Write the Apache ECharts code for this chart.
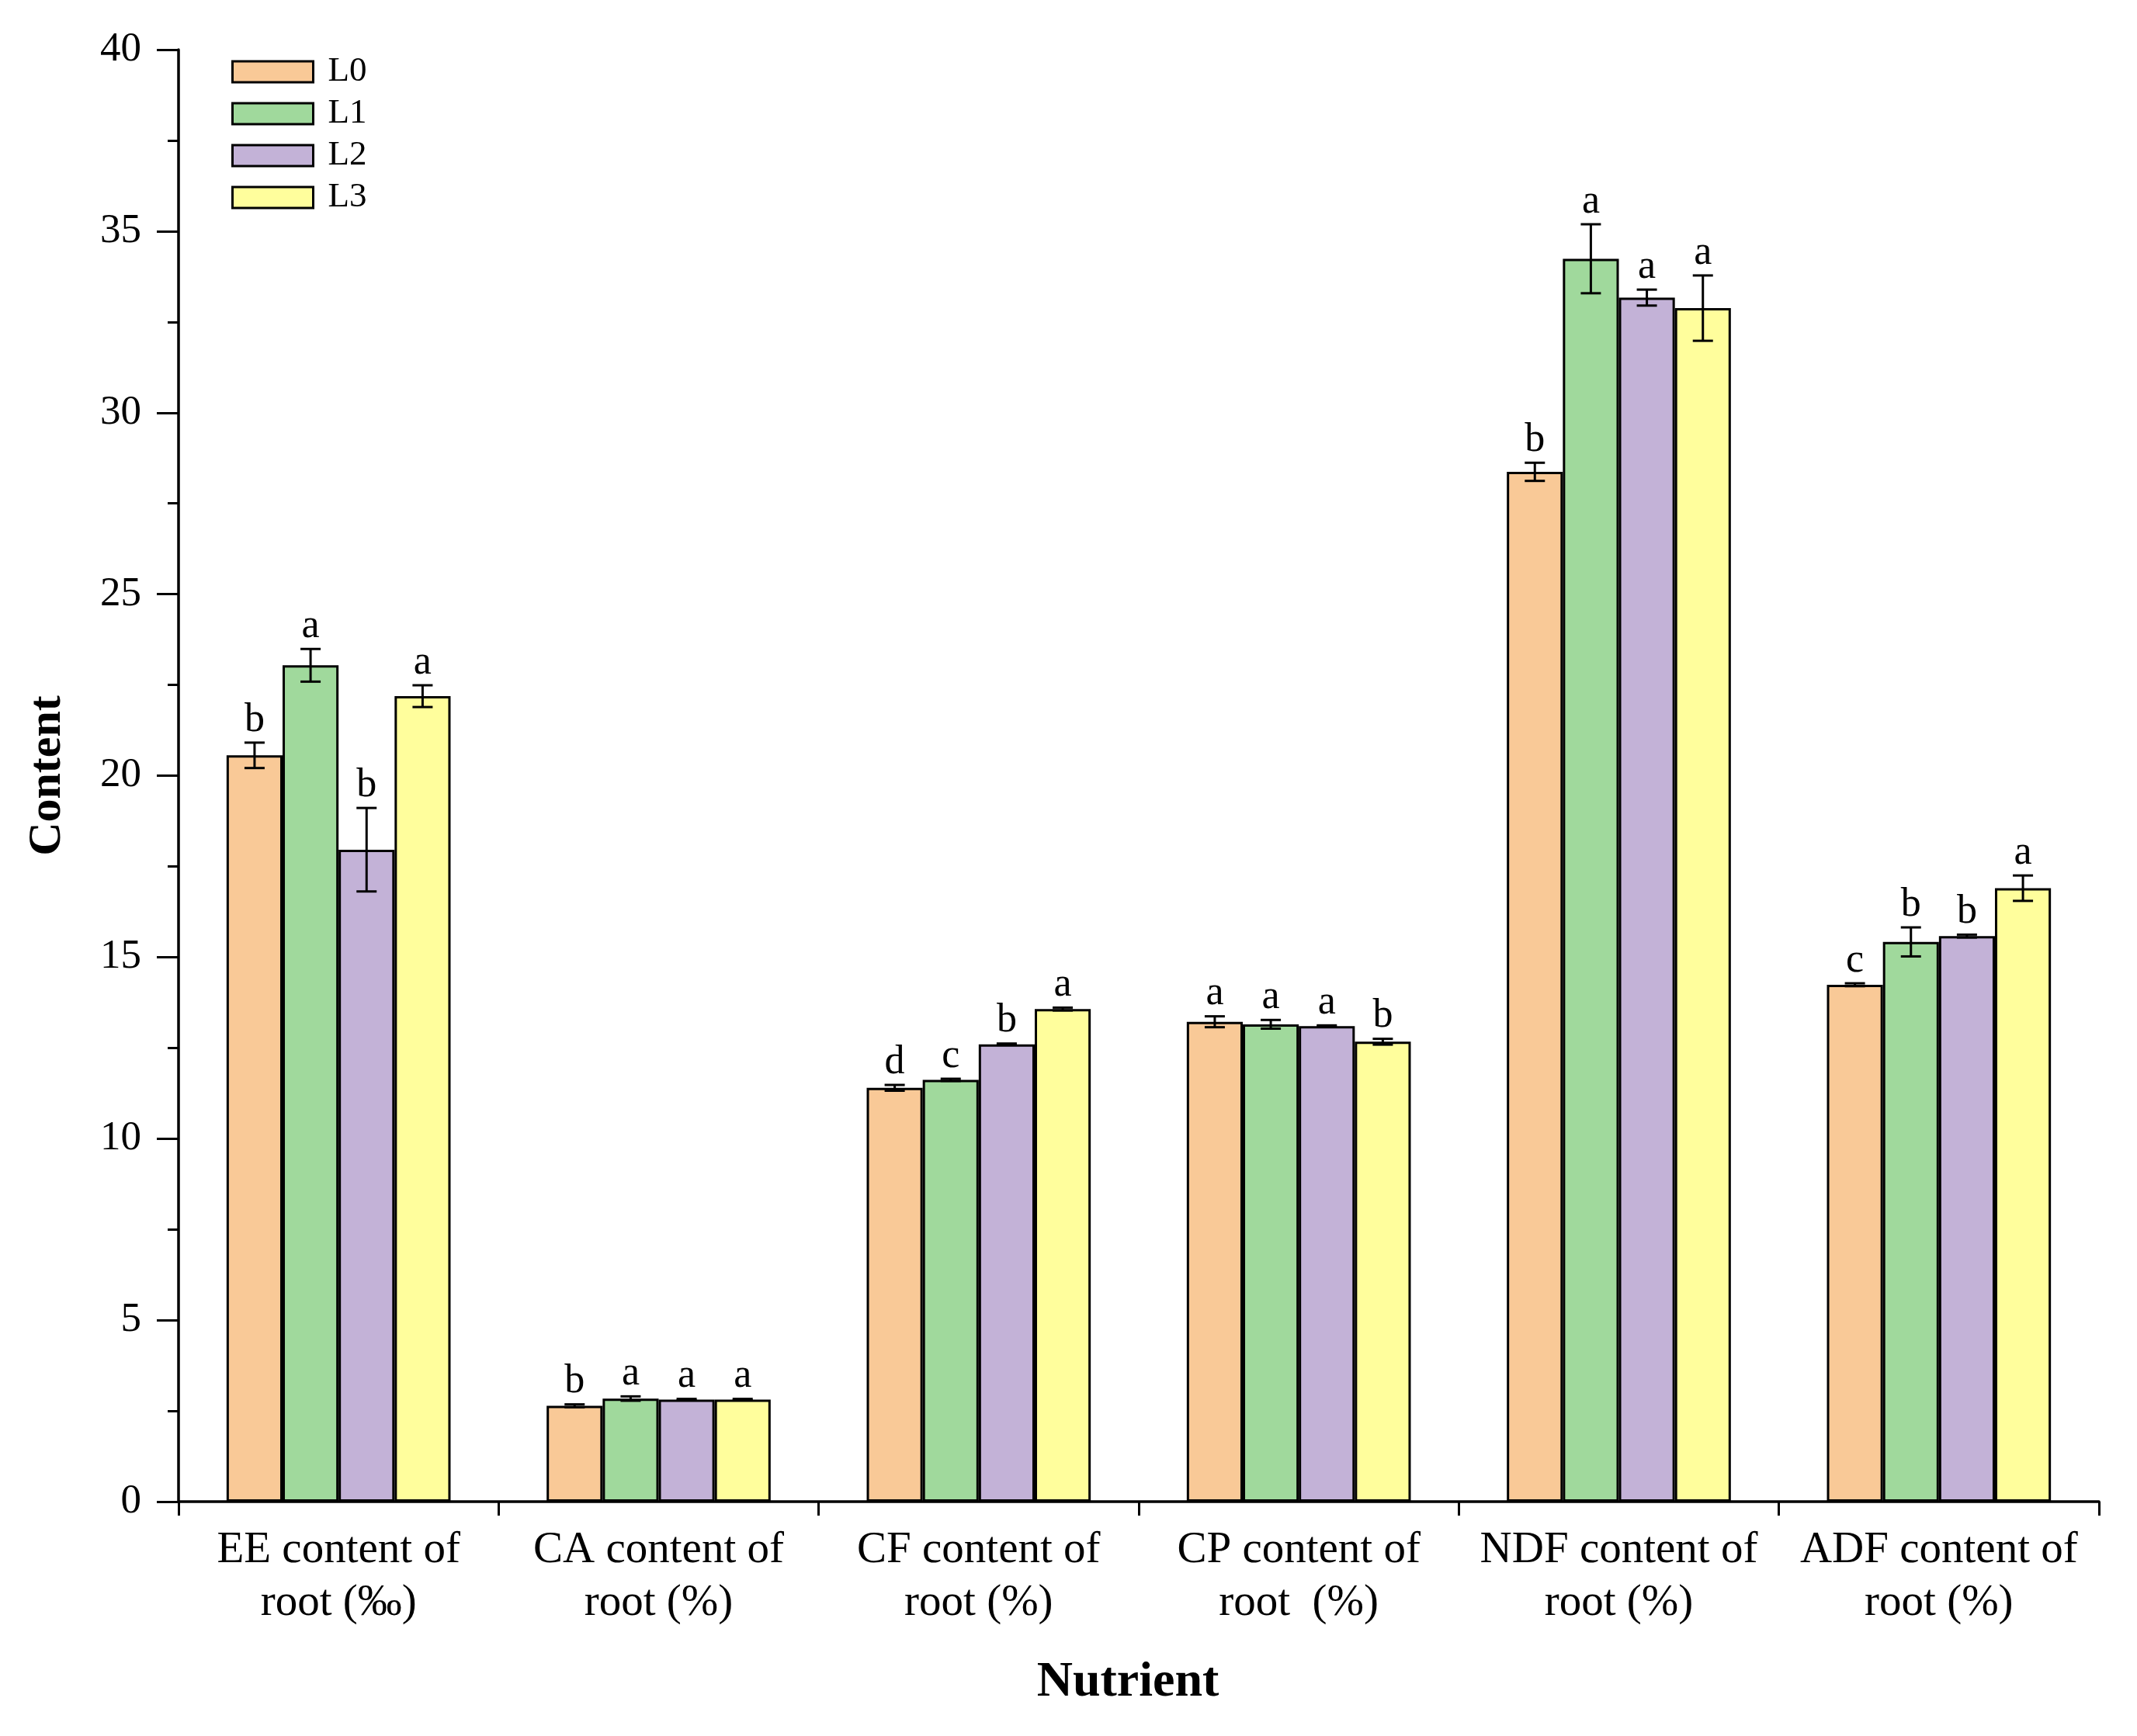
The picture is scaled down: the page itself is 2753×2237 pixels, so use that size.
<!DOCTYPE html>
<html><head><meta charset="utf-8">
<script src="https://cdn.jsdelivr.net/npm/echarts@6/dist/echarts.min.js"></script>
<style>html,body{margin:0;padding:0;background:#fff}#c{width:2753px;height:2237px}</style>
</head><body><div id="c"></div>
<script>
const categories = ['EE content of\nroot (‰)','CA content of\nroot (%)','CF content of\nroot (%)','CP content of\nroot  (%)','NDF content of\nroot (%)','ADF content of\nroot (%)'];
const levels = ['L0','L1','L2','L3'];
const colors = ['#F9C997','#A0D99C','#C3B2D7','#FFFE9C'];
const L0 = [20.56, 2.64, 11.40, 13.22, 28.37, 14.24];
const L1 = [23.04, 2.84, 11.62, 13.15, 34.24, 15.42];
const L2 = [17.96, 2.81, 12.60, 13.10, 33.17, 15.58];
const L3 = [22.19, 2.81, 13.57, 12.67, 32.88, 16.90];
const E0 = [0.35, 0.04, 0.08, 0.15, 0.25, 0.04];
const E1 = [0.45, 0.06, 0.03, 0.12, 0.95, 0.40];
const E2 = [1.15, 0.02, 0.02, 0.02, 0.22, 0.04];
const E3 = [0.30, 0.02, 0.04, 0.08, 0.90, 0.35];
const S0 = ['b','b','d','a','b','c'];
const S1 = ['a','a','c','a','a','b'];
const S2 = ['b','a','b','a','a','b'];
const S3 = ['a','a','a','b','a','a'];
const yTicks = {min:0, max:40, interval:5};

const vals = [L0,L1,L2,L3], errs = [E0,E1,E2,E3], sigs = [S0,S1,S2,S3];
const FONT = '"Liberation Serif", "Times New Roman", serif';

const series = [];
levels.forEach((lv,i)=>{
  series.push({
    type:'bar', name: lv, data: vals[i],
    barGap:'0%', barCategoryGap:'30%',
    itemStyle:{color:colors[i], borderColor:'#000', borderWidth:3},
    emphasis:{disabled:true}
  });
});
levels.forEach((lv,i)=>{
  series.push({
    type:'custom', name:'err'+lv, z:10,
    data: vals[i].map((v,k)=>[k, v, errs[i][k]]),
    encode:{x:0,y:1},
    renderItem:(params, api)=>{
      const k = api.value(0), v = api.value(1), e = api.value(2);
      const band = api.size([1,0])[0];
      const bw = band*0.7/4;
      const cx = api.coord([k, v])[0] + (i-1.5)*bw;
      const yT = api.coord([k, v+e])[1], yB = api.coord([k, v-e])[1];
      const cap = 13;
      const st = {stroke:'#000', lineWidth:3};
      return {type:'group', children:[
        {type:'line', shape:{x1:cx,y1:yT,x2:cx,y2:yB}, style:st},
        {type:'line', shape:{x1:cx-cap,y1:yT,x2:cx+cap,y2:yT}, style:st},
        {type:'line', shape:{x1:cx-cap,y1:yB,x2:cx+cap,y2:yB}, style:st},
        {type:'text', x:cx, y:yT-3, style:{text:sigs[i][params.dataIndex], fill:'#000', font:'52px '+FONT, align:'center', verticalAlign:'bottom'}}
      ]};
    }
  });
});

const chart = echarts.init(document.getElementById('c'));
chart.setOption({
  animation:false,
  backgroundColor:'#fff',
  grid:{left:230, right:49, top:64, bottom:302, containLabel:false},
  legend:{
    data:levels, orient:'vertical', left:293, top:65,
    icon:'rect', itemWidth:104, itemHeight:27, itemGap:9,
    itemStyle:{borderColor:'#000', borderWidth:3},
    textStyle:{fontFamily:FONT, fontSize:45, color:'#000', padding:[0,0,0,14]}
  },
  xAxis:{
    type:'category', data:categories,
    name:'Nutrient', nameLocation:'middle', nameGap:201,
    nameTextStyle:{fontFamily:FONT, fontSize:64, fontWeight:'bold', color:'#000', padding:[0,28,0,0]},
    axisLine:{lineStyle:{color:'#000', width:3.5}},
    axisTick:{show:true, alignWithLabel:false, length:18, lineStyle:{color:'#000', width:3}},
    axisLabel:{fontFamily:FONT, fontSize:57, color:'#000', lineHeight:68, margin:29, interval:0}
  },
  yAxis:{
    type:'value', min:yTicks.min, max:yTicks.max, interval:yTicks.interval,
    name:'Content', nameLocation:'middle', nameGap:139, nameRotate:90,
    nameTextStyle:{fontFamily:FONT, fontSize:60, fontWeight:'bold', color:'#000'},
    axisLine:{show:true, lineStyle:{color:'#000', width:3.5}},
    axisTick:{show:true, length:28, lineStyle:{color:'#000', width:3}},
    minorTick:{show:true, splitNumber:2, length:14, lineStyle:{color:'#000', width:3}},
    splitLine:{show:false},
    axisLabel:{fontFamily:FONT, fontSize:53, color:'#000', margin:48}
  },
  series
});
</script></body></html>
